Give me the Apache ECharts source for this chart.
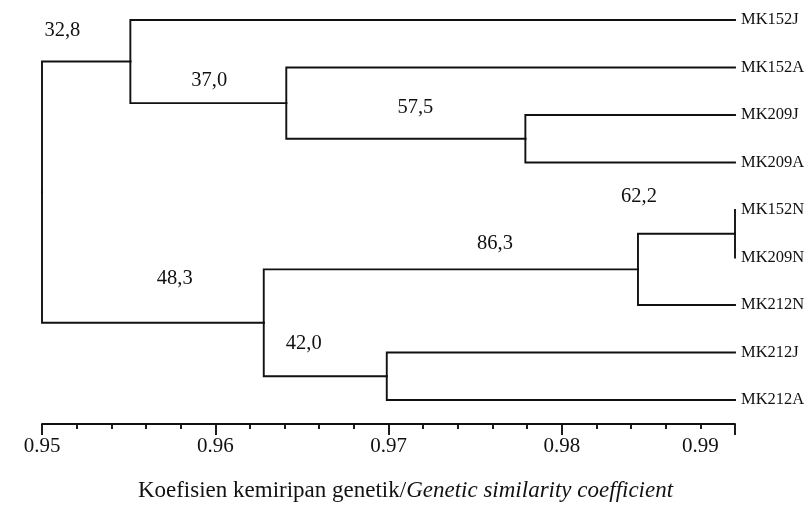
<!DOCTYPE html>
<html>
<head>
<meta charset="utf-8">
<script src="https://cdn.jsdelivr.net/npm/echarts@6/dist/echarts.min.js"></script>
<style>
html,body{margin:0;padding:0;background:#fff;}
#chart{width:811px;height:506px;}
</style>
</head>
<body>
<div id="chart"></div>
<script>
// ---- data ----
const leaves = ['MK152J','MK152A','MK209J','MK209A','MK152N','MK209N','MK212N','MK212J','MK212A'];
// merges: children ids (leaves 0..8, clusters 9..)
const merges = [[2,3],[1,9],[0,10],[4,5],[12,6],[7,8],[13,14],[11,15]];
const mergeSimilarity = [0.9779,0.9641,0.9551,0.99,0.9844,0.9699,0.9628,0.95];
const supportValues = ['57,5','37,0','32,8','62,2','86,3','42,0','48,3',''];
const leafSimilarity = 0.99;
const tickLabelValues = [0.95,0.96,0.97,0.98,0.988];
const tickLabelTexts = ['0.95','0.96','0.97','0.98','0.99'];

// ---- layout / style ----
const supportLabelOffsets = [[-110,-31],[-77,-23],[-68,-30.5],[-96,-37],[-143,-26],[-83,-33],[-89,-44],[0,0]];
const FONT = '"Liberation Serif","Times New Roman",serif';
const LINE = '#111';
const LW = 1.9;

// build tree coordinates
const nodeX = leaves.map(() => leafSimilarity);
const nodeY = leaves.map((_, i) => i);
const links = [];
const supportData = [];
merges.forEach((m, k) => {
  const id = leaves.length + k;
  nodeX[id] = mergeSimilarity[k];
  nodeY[id] = (nodeY[m[0]] + nodeY[m[1]]) / 2;
  m.forEach(c => links.push([nodeX[id], nodeY[id], nodeX[c], nodeY[c]]));
  if (supportValues[k]) supportData.push([nodeX[id], nodeY[id], supportValues[k], supportLabelOffsets[k][0], supportLabelOffsets[k][1]]);
});
const leafData = leaves.map((n, i) => [leafSimilarity, i, n]);

const chart = echarts.init(document.getElementById('chart'), null, {renderer:'canvas'});
chart.setOption({
  animation: false,
  backgroundColor: '#fff',
  title: {
    text: '{a|Koefisien kemiripan genetik/}{b|Genetic similarity coefficient}',
    left: 'center',
    top: 474,
    textStyle: {
      fontWeight: 'normal',
      rich: {
        a: {fontFamily: FONT, fontSize: 23, color: '#111', fontWeight: 'normal'},
        b: {fontFamily: FONT, fontSize: 23, color: '#111', fontWeight: 'normal', fontStyle: 'italic'}
      }
    }
  },
  grid: {left: 42, right: 76, top: 20, height: 380},
  xAxis: {
    type: 'value',
    position: 'bottom',
    min: 0.95, max: 0.99, interval: 0.01,
    offset: 24,
    splitLine: {show: false},
    axisLine: {show: true, onZero: false, lineStyle: {color: LINE, width: LW}},
    axisTick: {show: true, length: 11, lineStyle: {color: LINE, width: LW}},
    minorTick: {show: true, splitNumber: 5, length: 5, lineStyle: {color: LINE, width: LW}},
    minorSplitLine: {show: false},
    axisLabel: {
      customValues: tickLabelValues,
      margin: 12,
      fontFamily: FONT, fontSize: 21, color: '#111',
      formatter: function (v) {
        const i = tickLabelValues.findIndex(t => Math.abs(t - v) < 1e-6);
        return i >= 0 ? tickLabelTexts[i] : '';
      }
    }
  },
  yAxis: {
    type: 'value', min: 0, max: leaves.length - 1, inverse: true, show: false
  },
  series: [
    {
      type: 'custom',
      clip: false,
      data: links,
      renderItem: function (params, api) {
        const p = api.coord([api.value(0), api.value(1)]);
        const c = api.coord([api.value(2), api.value(3)]);
        return {
          type: 'polyline',
          shape: {points: [[p[0], p[1]], [p[0], c[1]], [c[0], c[1]]]},
          style: {stroke: LINE, lineWidth: LW, fill: null, lineCap: 'square'}
        };
      }
    },
    {
      type: 'custom',
      clip: false,
      data: leafData,
      renderItem: function (params, api) {
        const p = api.coord([api.value(0), api.value(1)]);
        return {
          type: 'text',
          x: p[0] + 6, y: p[1],
          style: {text: leafData[params.dataIndex][2], fontFamily: FONT, fontSize: 16.5, fill: '#111', align: 'left', verticalAlign: 'middle'}
        };
      }
    },
    {
      type: 'custom',
      clip: false,
      data: supportData,
      renderItem: function (params, api) {
        const d = supportData[params.dataIndex];
        const p = api.coord([d[0], d[1]]);
        return {
          type: 'text',
          x: p[0] + d[3], y: p[1] + d[4],
          style: {text: d[2], fontFamily: FONT, fontSize: 20.5, fill: '#111', align: 'center', verticalAlign: 'middle'}
        };
      }
    }
  ]
});
</script>
</body>
</html>
